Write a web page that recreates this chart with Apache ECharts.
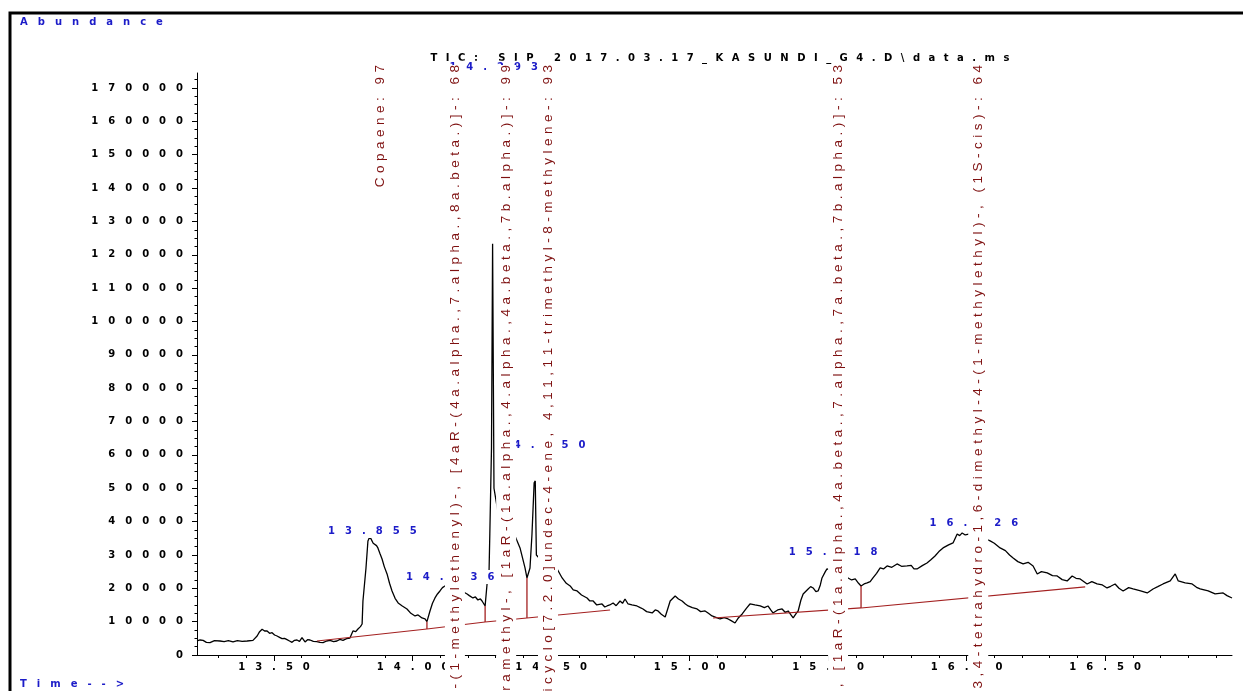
<!DOCTYPE html>
<html><head><meta charset="utf-8">
<script src="https://cdn.jsdelivr.net/npm/echarts@6/dist/echarts.min.js"></script>
<style>html,body{margin:0;padding:0;background:#fff}#c{width:1243px;height:691px}</style>
</head><body><div id="c"></div>
<script>
// ---- data ----
const rtMinutes = [13.222,13.233,13.244,13.256,13.269,13.285,13.305,13.320,13.335,13.352,13.368,13.385,13.403,13.424,13.439,13.448,13.457,13.466,13.475,13.484,13.493,13.502,13.511,13.520,13.529,13.538,13.547,13.556,13.565,13.574,13.583,13.592,13.601,13.612,13.621,13.630,13.642,13.655,13.666,13.677,13.690,13.702,13.715,13.727,13.738,13.749,13.762,13.774,13.785,13.795,13.803,13.812,13.818,13.821,13.832,13.839,13.846,13.850,13.858,13.865,13.870,13.875,13.882,13.890,13.898,13.908,13.917,13.926,13.937,13.948,13.963,13.980,13.994,14.009,14.020,14.034,14.045,14.052,14.063,14.072,14.081,14.090,14.099,14.108,14.117,14.135,14.160,14.197,14.205,14.218,14.227,14.236,14.245,14.251,14.262,14.269,14.276,14.279,14.285,14.289,14.291,14.294,14.310,14.340,14.363,14.370,14.388,14.406,14.413,14.424,14.431,14.439,14.443,14.447,14.480,14.522,14.540,14.555,14.569,14.580,14.594,14.610,14.630,14.640,14.652,14.665,14.684,14.694,14.702,14.712,14.724,14.735,14.749,14.758,14.767,14.778,14.792,14.810,14.822,14.832,14.845,14.865,14.876,14.886,14.898,14.912,14.930,14.948,14.960,14.973,14.985,14.995,15.010,15.027,15.040,15.056,15.068,15.081,15.095,15.110,15.125,15.139,15.150,15.164,15.175,15.190,15.205,15.218,15.236,15.255,15.270,15.283,15.293,15.301,15.318,15.334,15.345,15.356,15.366,15.374,15.385,15.392,15.402,15.410,15.428,15.437,15.446,15.456,15.464,15.472,15.478,15.490,15.496,15.525,15.550,15.572,15.585,15.598,15.610,15.619,15.630,15.641,15.652,15.662,15.675,15.688,15.700,15.713,15.730,15.749,15.765,15.785,15.800,15.810,15.821,15.840,15.857,15.870,15.886,15.900,15.915,15.935,15.951,15.966,15.975,15.984,15.995,16.020,16.050,16.085,16.100,16.121,16.140,16.155,16.168,16.185,16.204,16.222,16.240,16.255,16.270,16.291,16.310,16.327,16.345,16.363,16.381,16.395,16.410,16.435,16.452,16.471,16.490,16.507,16.520,16.536,16.550,16.565,16.585,16.601,16.625,16.652,16.673,16.690,16.709,16.735,16.753,16.764,16.789,16.814,16.830,16.843,16.872,16.897,16.926,16.940,16.958];
const abundance = [4200,4500,4400,3800,3700,4300,4200,4000,4300,3900,4300,4100,4200,4400,5700,7000,7700,7200,7200,6500,6700,6000,5700,5300,4900,5000,4600,4200,3800,4400,4500,4100,5200,3900,4600,4500,4100,4000,3800,3700,4200,4400,4000,4200,4700,4400,4900,5100,7200,7000,7800,8500,9300,16200,26100,34200,35500,35100,33500,33300,32800,32100,30500,28800,26500,24300,21500,19200,17000,15600,14700,13800,12500,11700,12000,11100,10800,10000,13200,15500,17100,18300,19200,20200,20700,21000,20000,18300,17800,17100,17400,16500,16800,16200,14700,21300,24300,36300,62000,123300,123300,50000,42000,39000,36300,35700,32100,26100,23100,26100,36000,51600,52200,30000,27000,25800,23100,21500,20700,19500,19200,18000,17100,16200,16200,15000,15300,14400,14700,15000,15600,14800,16200,15500,16800,15300,15000,14700,14200,13800,13000,12600,13500,13200,12200,11400,16200,17700,16800,16200,15300,14700,14200,13800,13000,13200,12500,11700,11300,10800,11200,10800,10300,9600,11000,12300,14000,15300,15000,14700,14200,14700,13500,12600,13500,13800,12800,13200,12000,11100,12500,13200,16500,18300,19800,20500,20100,19000,19200,21000,23100,25000,25800,25000,24000,23100,22500,22800,21500,20700,21300,21600,22000,23100,24500,26100,25800,26700,26300,27300,26600,26700,26900,25800,25800,26800,27600,28500,29700,31000,32100,33000,33600,36300,35800,36600,36000,36500,35500,34200,33500,32100,31300,30000,29100,28000,27300,27800,26700,24300,25000,24600,23800,23700,22600,22200,23700,23000,22800,21300,22000,21300,21000,20100,20600,21300,20000,19200,20200,19800,19300,18600,19800,20500,21300,22200,24300,22200,21600,21300,20300,19800,19200,18300,18600,17800,17100];

const peakTimes = [13.855, 14.136, 14.293, 14.450, 15.518, 16.026];
const peakLabels = ["13.855", "14.136", "14.293", "14.450", "15.518", "16.026"];
const peakApex = [35100, 21000, 123300, 52200, 25800, 36600];

const compoundTimes = [13.883, 14.153, 14.338, 14.489, 15.536, 16.042];
const compoundNames = [
  "Copaene: 97",
  "Naphthalene, decahydro-4a-methyl-1-methylene-7-(1-methylethenyl)-, [4aR-(4a.alpha.,7.alpha.,8a.beta.)]-: 68",
  "1H-Cycloprop[e]azulene, 1a,2,3,4,4a,5,6,7b-octahydro-1,1,4,7-tetramethyl-, [1aR-(1a.alpha.,4.alpha.,4a.beta.,7b.alpha.)]-: 99",
  "Bicyclo[7.2.0]undec-4-ene, 4,11,11-trimethyl-8-methylene-: 93",
  "1H-Cycloprop[e]azulen-7-ol, decahydro-1,1,7-trimethyl-4-methylene-, [1aR-(1a.alpha.,4a.beta.,7.alpha.,7a.beta.,7b.alpha.)]-: 53",
  "Naphthalene, 1,2,3,4-tetrahydro-1,6-dimethyl-4-(1-methylethyl)-, (1S-cis)-: 64"
];

// baseline segments: [t1, v1, t2, v2]
const baselineSegments = [
  [13.655, 4200, 14.052, 7800],
  [14.052, 7800, 14.262, 9900],
  [14.262, 9900, 14.413, 11100],
  [14.413, 11100, 14.713, 13500],
  [15.085, 11100, 15.619, 14100],
  [15.619, 14100, 16.428, 20400]
];
// drop lines: [t, baseline value, trace value]
const dropLines = [
  [14.052, 7800, 10000],
  [14.262, 9900, 14700],
  [14.413, 11100, 23100],
  [15.619, 14100, 20700]
];

const xMajorTicks = [13.5, 14.0, 14.5, 15.0, 15.5, 16.0, 16.5];
const yMajorTicks = [0,10000,20000,30000,40000,50000,60000,70000,80000,90000,100000,110000,120000,130000,140000,150000,160000,170000];
const xRange = [13.222, 16.958];
const yRange = [0, 174500];
const titleText = "TIC: SJP 2017.03.17_KASUNDI_G4.D\\data.ms";

// ---- presentation ----
const xMinorTicks = [];
for (let k = 133; k <= 169; k++) xMinorTicks.push(k / 10);
const yMinorTicks = [];
for (let k = 0; k <= 69; k++) yMinorTicks.push(k * 2500);

const EM = "\u2003";
function spaced(s, gap) { return Array.from(s).join(gap); }
const labelDy = [-7, -8, -176, -35, -17, -10];
const labelDx = [0, 0, 0, 4, 0, 0];
const axisFont = { color: '#000', fontFamily: 'DejaVu Sans', fontWeight: 'bold', fontSize: 10 };

const chart = echarts.init(document.getElementById('c'), null, { renderer: 'canvas' });
const option = {
  animation: false,
  backgroundColor: '#fff',
  grid: { left: 197, right: 11, top: 73, bottom: 36 },
  xAxis: [
    { type: 'value', min: xRange[0], max: xRange[1], position: 'bottom',
      axisLine: { show: true, lineStyle: { color: '#000', width: 1 } },
      axisTick: { show: true, customValues: xMajorTicks, length: 6, lineStyle: { color: '#000' } },
      axisLabel: Object.assign({ customValues: xMajorTicks, margin: 7,
        formatter: v => spaced(v.toFixed(2), EM) }, axisFont),
      splitLine: { show: false } },
    { type: 'value', min: xRange[0], max: xRange[1], position: 'bottom', offset: 0,
      axisLine: { show: false },
      axisTick: { show: true, customValues: xMinorTicks, length: 3, lineStyle: { color: '#000' } },
      axisLabel: { show: false }, splitLine: { show: false } }
  ],
  yAxis: [
    { type: 'value', min: yRange[0], max: yRange[1], position: 'left',
      axisLine: { show: true, lineStyle: { color: '#000', width: 1 } },
      axisTick: { show: true, customValues: yMajorTicks, length: 5, lineStyle: { color: '#000' } },
      axisLabel: Object.assign({ customValues: yMajorTicks, margin: 14,
        formatter: v => spaced(String(v), EM) }, axisFont),
      splitLine: { show: false } },
    { type: 'value', min: yRange[0], max: yRange[1], position: 'left', offset: 0,
      axisLine: { show: false },
      axisTick: { show: true, customValues: yMinorTicks, length: 2.5, lineStyle: { color: '#000' } },
      axisLabel: { show: false }, splitLine: { show: false } }
  ],
  graphic: [
    { type: 'rect', shape: { x: 10, y: 13, width: 1400, height: 800 }, style: { fill: null, stroke: '#000', lineWidth: 3 }, silent: true },
    { type: 'text', x: 20, y: 22, style: { text: spaced("Abundance", EM), font: 'bold 10px "DejaVu Sans"', fill: '#1c1cc8', verticalAlign: 'middle', align: 'left' } },
    { type: 'text', x: 20, y: 684, style: { text: spaced("Time-->", EM), font: 'bold 10px "DejaVu Sans"', fill: '#1c1cc8', verticalAlign: 'middle', align: 'left' } },
    { type: 'text', x: 720, y: 58, style: { text: spaced(titleText, "\u2002 "), font: 'bold 10px "DejaVu Sans"', fill: '#000', verticalAlign: 'middle', align: 'center' } }
  ],
  series: [
    { type: 'line', name: 'TIC', xAxisIndex: 0, yAxisIndex: 0, z: 2, silent: true,
      data: rtMinutes.map((t, i) => [t, abundance[i]]),
      showSymbol: false, symbol: 'none', sampling: null,
      lineStyle: { color: '#000', width: 1.3 } },
    { type: 'custom', name: 'baseline', z: 3, silent: true,
      data: baselineSegments,
      encode: { x: [0, 2], y: [1, 3] },
      renderItem: (params, api) => {
        const a = api.coord([api.value(0), api.value(1)]);
        const b = api.coord([api.value(2), api.value(3)]);
        return { type: 'line', shape: { x1: a[0], y1: a[1], x2: b[0], y2: b[1] }, style: { stroke: '#a32020', lineWidth: 1.2 } };
      } },
    { type: 'custom', name: 'drops', z: 3, silent: true,
      data: dropLines,
      encode: { x: 0, y: [1, 2] },
      renderItem: (params, api) => {
        const a = api.coord([api.value(0), api.value(1)]);
        const b = api.coord([api.value(0), api.value(2)]);
        return { type: 'line', shape: { x1: a[0], y1: a[1], x2: b[0], y2: b[1] }, style: { stroke: '#a32020', lineWidth: 1.3 } };
      } },
    { type: 'custom', name: 'peakLabels', z: 4, silent: true,
      data: peakTimes.map((t, i) => [t, peakApex[i]]),
      encode: { x: 0, y: 1 },
      renderItem: (params, api) => {
        const i = params.dataIndex;
        const p = api.coord([api.value(0), api.value(1)]);
        return { type: 'text', x: p[0] + labelDx[i], y: p[1] + labelDy[i],
          style: { text: spaced(peakLabels[i], EM), font: 'bold 10px "DejaVu Sans"', fill: '#1c1cc8',
            align: 'center', verticalAlign: 'middle', backgroundColor: '#fff', padding: [1, 0], lineHeight: 12 } };
      } },
    { type: 'custom', name: 'compounds', z: 5, silent: true,
      data: compoundTimes.map(t => [t, yRange[1]]),
      encode: { x: 0, y: 1 },
      renderItem: (params, api) => {
        const i = params.dataIndex;
        const p = api.coord([api.value(0), api.value(1)]);
        return { type: 'text', x: p[0], y: p[1] - 8, rotation: Math.PI / 2,
          style: { text: spaced(compoundNames[i], "\u2004"), font: '13.5px "Liberation Sans"', fill: '#7e1010',
            align: 'right', verticalAlign: 'middle', backgroundColor: '#fff', padding: [2, 0], lineHeight: 16 } };
      } }
  ]
};
chart.setOption(option);
</script>
</body></html>
